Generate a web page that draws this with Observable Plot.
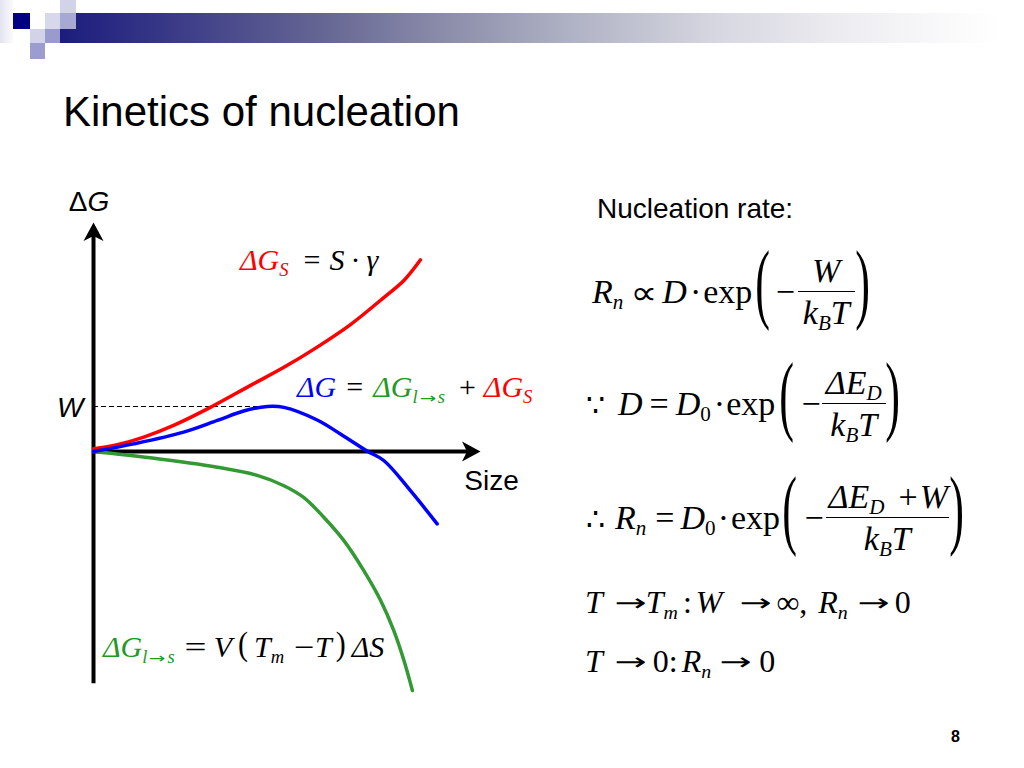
<!DOCTYPE html>
<html>
<head>
<meta charset="utf-8">
<script src="https://cdn.jsdelivr.net/npm/d3@7"></script>
<script src="https://cdn.jsdelivr.net/npm/@observablehq/plot@0.6"></script>
<style>
  body{margin:0;background:#fff;width:1024px;height:768px;position:relative;overflow:hidden;font-family:"Liberation Sans",Arial,sans-serif;color:#000}
  .abs{position:absolute}
  .sq{position:absolute}
  .m{position:absolute;font-family:"Liberation Serif","Times New Roman",serif;font-size:30px;line-height:30px;white-space:nowrap}
  .m i{font-style:italic}
  .m sub{font-size:0.62em;position:relative;top:0.3em;vertical-align:baseline;line-height:0}
  .big{font-size:34px;line-height:34px}
  .mid{font-size:32px;line-height:32px}
  .eq{display:flex;align-items:center;height:100px}
  .eq > span{line-height:34px}
  .frac{display:inline-flex;flex-direction:column;align-items:stretch}
  .num{border-bottom:1.4px solid #000;padding:0 4px 3px;text-align:center}
  .den{padding:4px 4px 0;text-align:center}
  .paren{display:inline-block;transform-origin:50% 60%;transform:translateY(-3px) scale(1.3,2.6)}
  .sparen{display:inline-block;transform-origin:50% 60%;transform:translateY(-3px) scaleY(1.15)}
  .arr{display:inline-block;width:31px;text-align:center;font-family:"DejaVu Sans",sans-serif;font-size:24px;font-style:normal;line-height:1;position:relative;top:-2px;transform:scaleX(1.6)}
  .sarr{display:inline-block;width:20px;text-align:center;font-family:"DejaVu Sans",sans-serif;font-size:14px;font-style:normal;transform:scaleX(1.4)}
  .prop{display:inline-block;width:22px;text-align:center;font-family:"DejaVu Sans",sans-serif;font-size:30px;transform:scale(1.25,1.1)}
  .sym{display:inline-block;width:20px;text-align:center;font-family:"DejaVu Serif",serif;font-size:30px}
  #chart{position:absolute;left:40px;top:170px}
</style>
</head>
<body>
<!-- header decoration -->
<div class="sq" style="left:0;top:0;width:13px;height:43px;background:linear-gradient(to right,#e4e4f0,#fafafd)"></div>
<div class="sq" style="left:60px;top:13px;width:940px;height:30px;background:linear-gradient(to right,#1c1c7e 0%,#3a3a88 12%,#666694 28%,#8e90ac 42%,#b4b6c8 56%,#d6d7e0 70%,#eeeef2 84%,#fbfbfc 96%,#ffffff 100%)"></div>
<div class="sq" style="left:13px;top:13px;width:17px;height:16px;background:#000080"></div>
<div class="sq" style="left:60px;top:0;width:16px;height:13px;background:#d2d2e8"></div>
<div class="sq" style="left:45px;top:13px;width:15px;height:16px;background:#d8d8ec"></div>
<div class="sq" style="left:60px;top:13px;width:16px;height:16px;background:#a8a8d4"></div>
<div class="sq" style="left:30px;top:29px;width:15px;height:14px;background:#d2d2e8"></div>
<div class="sq" style="left:45px;top:29px;width:15px;height:14px;background:#9a9acc"></div>
<div class="sq" style="left:30px;top:43px;width:15px;height:16px;background:#9c9cce"></div>

<div class="abs" style="left:63px;top:91px;font-size:42px;line-height:42px;white-space:nowrap">Kinetics of nucleation</div>
<div class="abs" style="left:597px;top:195px;font-size:28px;line-height:28px;white-space:nowrap">Nucleation rate:</div>

<div id="chart"></div>

<!-- curve labels -->
<div class="m" style="left:240px;top:245px"><span style="color:#ff0000"><i>ΔG</i><sub><i>S</i></sub></span><span style="margin:0 9px 0 15px">=</span><i>S</i><span style="margin:0 6px">·</span><i>γ</i></div>
<div class="m" style="left:297px;top:372px"><span style="color:#0000ff"><i>ΔG</i></span><span style="margin:0 10px 0 10px">=</span><span style="color:#229922"><i>ΔG</i><sub><i>l</i><span class="sarr">→</span><i>s</i></sub></span><span style="margin:0 8px 0 14px">+</span><span style="color:#ff0000"><i>ΔG</i><sub><i>S</i></sub></span></div>
<div class="m" style="left:103px;top:632px"><span style="color:#229922"><i>ΔG</i><sub><i>l</i><span class="sarr">→</span><i>s</i></sub></span><span style="margin:0 10px 0 12px;display:inline-block;transform:scaleX(1.3)">=</span><i>V</i><span class="sparen" style="margin:0 6px 0 6px">(</span><i>T</i><sub><i>m</i></sub><span style="margin:0 2px 0 12px;display:inline-block;transform:scaleX(1.2)">−</span><i>T</i><span class="sparen" style="margin:0 6px 0 4px">)</span><i>ΔS</i></div>

<!-- equations -->
<div class="m big eq" style="left:592px;top:242px">
  <span><i>R</i><sub><i>n</i></sub><span class="prop" style="margin:0 7px 0 10px">∝</span><i>D</i><span style="margin:0 2px 0 3px">·</span>exp</span>
  <span class="paren" style="margin-left:5px">(</span>
  <span style="margin-left:7px">−</span>
  <span class="frac" style="margin-left:3px"><span class="num" style="padding:0 5px 3px"><i>W</i></span><span class="den" style="padding:4px 5px 0"><i>k</i><sub><i>B</i></sub><i>T</i></span></span>
  <span class="paren" style="margin-left:2px">)</span>
</div>
<div class="m big eq" style="left:585px;top:354px">
  <span><span class="sym">∵</span><span style="margin:0 7px 0 13px"><i>D</i></span>=<span style="margin-left:7px"><i>D</i></span><sub>0</sub><span style="margin:0 1px 0 3px">·</span>exp</span>
  <span class="paren" style="margin-left:6px">(</span>
  <span style="margin-left:9px">−</span>
  <span class="frac" style="margin-left:1px"><span class="num" style="padding:0 4px 3px"><i>ΔE</i><sub><i>D</i></sub></span><span class="den" style="padding:4px 4px 0"><i>k</i><sub><i>B</i></sub><i>T</i></span></span>
  <span class="paren" style="margin-left:1px">)</span>
</div>
<div class="m big eq" style="left:585px;top:468px">
  <span><span class="sym">∴</span><span style="margin:0 9px 0 10px"><i>R</i><sub><i>n</i></sub></span>=<span style="margin-left:6px"><i>D</i></span><sub>0</sub><span style="margin:0 2px 0 2px">·</span>exp</span>
  <span class="paren" style="margin-left:4px">(</span>
  <span style="margin-left:9px">−</span>
  <span class="frac" style="margin-left:2px"><span class="num" style="padding:0 1px 3px 3px"><i>ΔE</i><sub><i>D</i></sub><span style="margin:0 2px 0 14px">+</span><i>W</i></span><span class="den" style="padding:4px 2px 0"><i>k</i><sub><i>B</i></sub><i>T</i></span></span>
  <span class="paren" style="margin-left:2px">)</span>
</div>
<div class="m mid" style="left:585px;top:586px"><i>T</i><span class="arr" style="margin:0 0 0 12px">→</span><i>T</i><sub><i>m</i></sub><span style="margin-left:5px">:</span><span style="margin-left:4px"><i>W</i></span><span class="arr" style="margin:0 5px 0 18px">→</span>∞,<span style="margin-left:11px"><i>R</i></span><sub><i>n</i></sub><span class="arr" style="margin:0 6px 0 10px">→</span>0</div>
<div class="m mid" style="left:585px;top:645px"><i>T</i><span class="arr" style="margin:0 7px 0 12px">→</span>0:<span style="margin-left:4px"><i>R</i></span><sub><i>n</i></sub><span class="arr" style="margin:0 8px 0 9px">→</span>0</div>

<div class="abs" style="left:951px;top:729px;font-size:16px;line-height:16px;font-weight:bold">8</div>

<script>
// ---- data (schematic values) ----
const sizeRed   = [0, 0.61, 1.30, 2.07, 3.02, 4.06, 4.92, 5.78, 6.64, 7.50, 8.02, 8.45];
const gRed      = [0.06, 0.15, 0.32, 0.58, 0.98, 1.47, 1.87, 2.32, 2.82, 3.42, 3.80, 4.26];
const sizeBlue  = [0, 1.04, 2.33, 3.20, 3.88, 4.49, 4.92, 5.78, 6.38, 7.07, 7.50, 8.19, 8.88];
const gBlue     = [0, 0.17, 0.43, 0.69, 0.90, 1.00, 0.98, 0.70, 0.39, 0.01, -0.20, -0.87, -1.61];
const sizeGreen = [0, 1.47, 3.20, 4.23, 4.92, 5.43, 5.95, 6.47, 6.98, 7.42, 7.76, 8.02, 8.24];
const gGreen    = [0, -0.14, -0.35, -0.53, -0.76, -1.02, -1.46, -1.98, -2.64, -3.31, -3.98, -4.64, -5.31];
const barrierW = 1.0;        // W
const barrierSize = 4.49;    // size at the maximum of ΔG
const axisSizeEnd = 10;
const axisGTop = 5.09;
const axisGBottom = -5.16;
const axisTitleY = ["Δ", "G"];
const axisTitleX = "Size";
const barrierLabel = "W";

// ---- layout ----
const PLOT_LEFT = 40, PLOT_TOP = 170, PW = 520, PH = 540;
const X0 = 93 - PLOT_LEFT, Y0 = 451 - PLOT_TOP, PX_SIZE = 38.7, PX_G = 45;
const xDomain = [0, 10], yDomain = [-5.4, 5.2];

const toRows = (xs, ys, name) => xs.map((s, i) => ({size: s, g: ys[i], curve: name}));
const red = toRows(sizeRed, gRed, "ΔG_S");
const blue = toRows(sizeBlue, gBlue, "ΔG");
const green = toRows(sizeGreen, gGreen, "ΔG_l→s");

const arrowUp = {draw(ctx, size){ const r = Math.sqrt(size/Math.PI); ctx.moveTo(0,0); ctx.lineTo(r,1.85*r); ctx.lineTo(0,1.35*r); ctx.lineTo(-r,1.85*r); ctx.closePath(); }};
const arrowRight = {draw(ctx, size){ const r = Math.sqrt(size/Math.PI); ctx.moveTo(0,0); ctx.lineTo(-1.85*r,-r); ctx.lineTo(-1.35*r,0); ctx.lineTo(-1.85*r,r); ctx.closePath(); }};
const notchY = 13 / PX_G, notchX = 13 / PX_SIZE;

const chart = Plot.plot({
  width: PW, height: PH, margin: 0,
  style: {background: "transparent", overflow: "visible"},
  x: {domain: xDomain, range: [X0 + xDomain[0]*PX_SIZE, X0 + xDomain[1]*PX_SIZE], axis: null},
  y: {domain: yDomain, range: [Y0 - yDomain[0]*PX_G, Y0 - yDomain[1]*PX_G], axis: null},
  marks: [
    Plot.ruleY([barrierW], {x1: 0, x2: barrierSize, stroke: "#000", strokeWidth: 1, strokeDasharray: "5,3"}),
    Plot.ruleX([0], {y1: axisGBottom, y2: axisGTop - notchY, stroke: "#000", strokeWidth: 4}),
    Plot.ruleY([0], {x1: 0, x2: axisSizeEnd - notchX, stroke: "#000", strokeWidth: 4}),
    Plot.dot([{size: 0, g: axisGTop}], {x: "size", y: "g", symbol: arrowUp, r: 10, fill: "#000"}),
    Plot.dot([{size: axisSizeEnd, g: 0}], {x: "size", y: "g", symbol: arrowRight, r: 10, fill: "#000"}),
    Plot.line(green, {x: "size", y: "g", stroke: "#339933", strokeWidth: 3.5, curve: "catmull-rom"}),
    Plot.line(red, {x: "size", y: "g", stroke: "#ff0000", strokeWidth: 3.5, curve: "catmull-rom"}),
    Plot.line(blue, {x: "size", y: "g", stroke: "#0000ff", strokeWidth: 3.5, curve: "catmull-rom"}),
    Plot.text([axisTitleY[0]], {x: () => 0, y: () => axisGTop, text: d => d, textAnchor: "end", dx: -6, dy: -20, fontSize: 28, fontFamily: "Liberation Sans, Arial, sans-serif"}),
    Plot.text([axisTitleY[1]], {x: () => 0, y: () => axisGTop, text: d => d, textAnchor: "start", dx: -6, dy: -20, fontSize: 28, fontStyle: "italic", fontFamily: "Liberation Sans, Arial, sans-serif"}),
    Plot.text([barrierLabel], {x: () => 0, y: () => barrierW, text: d => d, textAnchor: "end", dx: -10, dy: 2, fontSize: 28, fontStyle: "italic", fontFamily: "Liberation Sans, Arial, sans-serif"}),
    Plot.text([axisTitleX], {x: () => axisSizeEnd, y: () => 0, text: d => d, textAnchor: "middle", dx: 11, dy: 30, fontSize: 28, fontFamily: "Liberation Sans, Arial, sans-serif"})
  ]
});
document.getElementById("chart").appendChild(chart);
</script>
</body>
</html>
